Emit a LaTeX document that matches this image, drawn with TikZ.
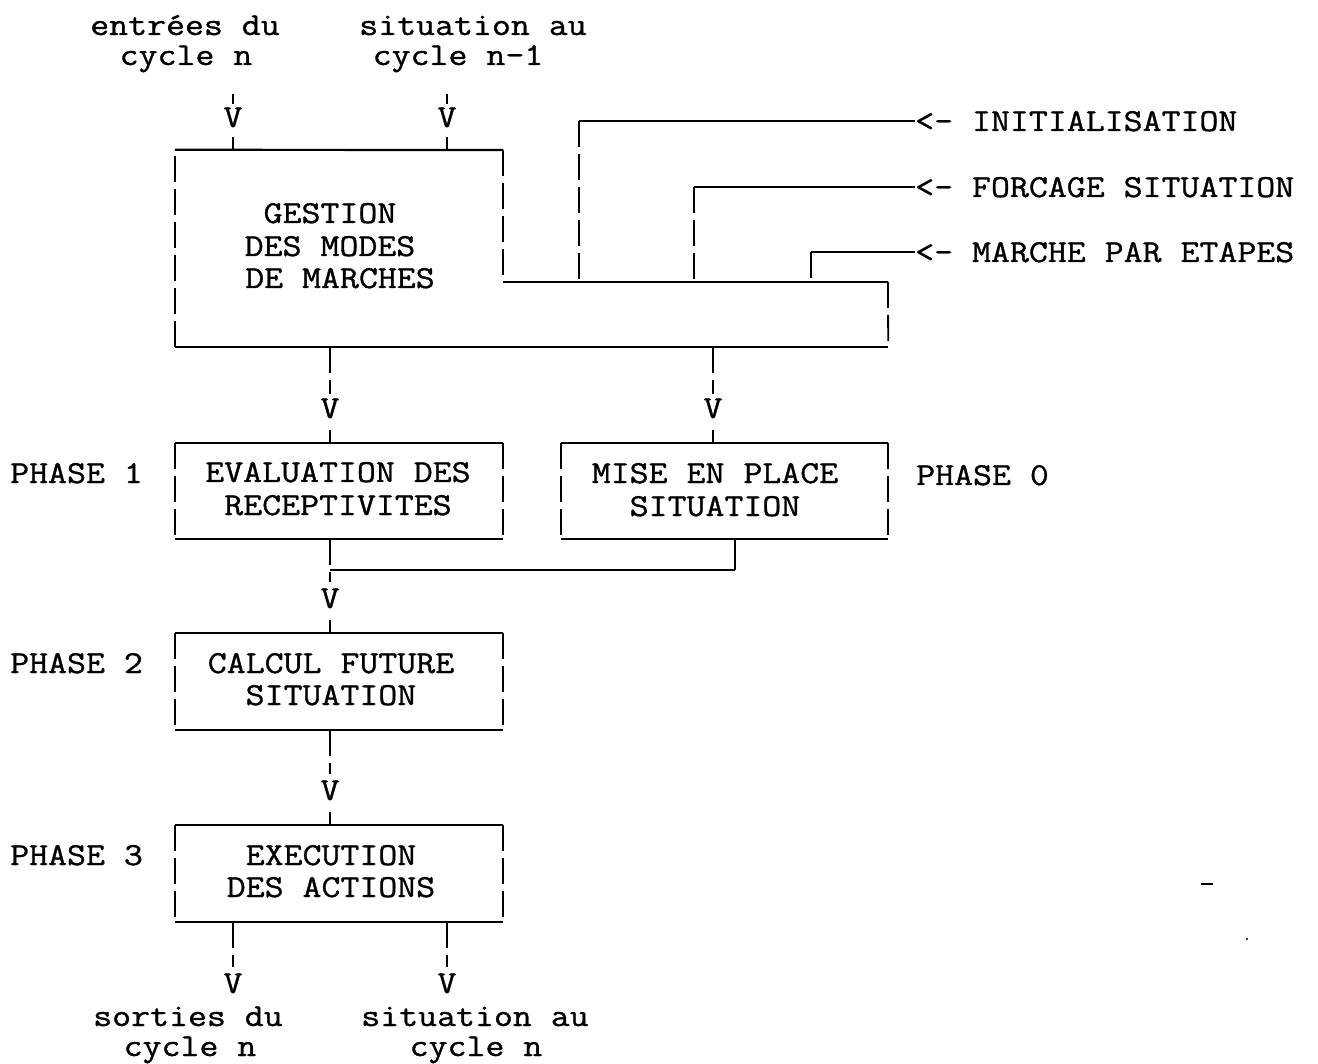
\documentclass[tikz,border=0pt]{standalone}
\usepackage{fontspec}
\setmainfont[FakeStretch=1.15,FakeBold=1]{Latin Modern Mono}
\begin{document}
\begin{tikzpicture}[x=1pt,y=-1pt,
  hl/.style={line width=2.2pt},
  vl/.style={line width=1.8pt, dash pattern=on 26pt off 7pt},
  bar/.style={line width=1.8pt},
  txt/.style={inner sep=0pt, anchor=base, font=\fontsize{32}{32}\selectfont},
  txtw/.style={txt, anchor=base west},
  arrv/.style={inner sep=0pt, anchor=base, font=\fontsize{32}{32}\selectfont},
  boxn/.style={draw=none, inner sep=0pt, rectangle}]
\fill[white] (0,0) rectangle (1318,1064);
\useasboundingbox (0,0) rectangle (1318,1064);

% ---------- top inputs ----------
\node[txt] (ia1) at (185,35) {entrées du};
\node[txt] (ia2) at (186,65) {cycle n};
\node[txt] (ib1) at (473,35) {situation au};
\node[txt] (ib2) at (458,65) {cycle n-1};
\node[arrv] (va) at (233,127) {V};
\node[arrv] (vb) at (447,127) {V};

% ---------- box GESTION (irregular outline) ----------
\node[boxn, minimum width=713pt, minimum height=197pt] (g) at (531.5,248.5) {};
\coordinate (gn) at (503,150);
\coordinate (gk) at (503,282);
\coordinate (gm) at (888,282);
\draw[hl] (g.north west) -- (gn);
\draw[vl] (gn) -- (gk);
\draw[hl] (gk) -- (gm);
\draw[vl] (gm) -- (g.south east);
\draw[hl] (g.south east) -- (g.south west);
\draw[vl] (g.south west) -- (g.north west);
\node[txt] (g1) at (330,223) {GESTION};
\node[txt] (g2) at (330,256) {DES MODES};
\node[txt] (g3) at (340,288) {DE MARCHES};

% input connectors
\draw[bar, shorten <=22pt, shorten >=3pt] (ia2.south -| va) -- (va.north);
\draw[bar, shorten <=10pt] (va.south) -- (va |- g.north);
\draw[bar, shorten <=22pt, shorten >=3pt] (ib2.south -| vb) -- (vb.north);
\draw[bar, shorten <=10pt] (vb.south) -- (vb |- g.north);

% ---------- control inputs ----------
\node[txtw] (ci) at (915,131) {<- INITIALISATION};
\node[txtw] (cf) at (915,197) {<- FORCAGE SITUATION};
\node[txtw] (cm) at (915,262) {<- MARCHE PAR ETAPES};
\coordinate (k1) at (579,282);
\coordinate (k2) at (694,282);
\coordinate (k3) at (811,282);
\draw[hl] (ci.west) -- (ci.west -| k1);
\draw[vl] (ci.west -| k1) -- (k1);
\draw[hl] (cf.west) -- (cf.west -| k2);
\draw[vl] (cf.west -| k2) -- (k2);
\draw[hl] (cm.west) -- (cm.west -| k3);
\draw[vl] (cm.west -| k3) -- (k3);

% ---------- phase 1 / phase 0 ----------
\node[arrv] (vc) at (330,418) {V};
\node[arrv] (vd) at (713,418) {V};
\node[boxn, minimum width=328pt, minimum height=96pt] (ev) at (339,491) {};
\node[boxn, minimum width=327pt, minimum height=96pt] (mi) at (724.5,491) {};
\foreach \b in {ev,mi}{
  \draw[hl] (\b.north west) -- (\b.north east) (\b.south west) -- (\b.south east);
  \draw[vl] (\b.north west) -- (\b.south west) (\b.north east) -- (\b.south east);
}
\node[txt] (ev1) at (338,482) {EVALUATION DES};
\node[txt] (ev2) at (338,515) {RECEPTIVITES};
\node[txt] (mi1) at (715,483) {MISE EN PLACE};
\node[txt] (mi2) at (715,516) {SITUATION};
\node[txtw] (p1) at (10,483) {PHASE 1};
\node[txtw] (p0) at (916,485) {PHASE 0};

\draw[vl, shorten >=4pt] (vc |- g.south) -- (vc.north);
\draw[bar, shorten <=12pt] (vc.south) -- (vc |- ev.north);
\draw[vl, shorten >=4pt] (vd |- g.south) -- (vd.north);
\draw[bar, shorten <=12pt] (vd.south) -- (vd |- mi.north);

% ---------- merge ----------
\node[arrv] (ve) at (330,608) {V};
\coordinate (mj) at (330,570);
\coordinate (mk) at (735,570);
\draw[vl, shorten >=6pt] (ve |- ev.south) -- (ve.north);
\draw[bar] (mk |- mi.south) -- (mk);
\draw[hl] (mk) -- (mj);

% ---------- phase 2 ----------
\node[boxn, minimum width=328pt, minimum height=97pt] (ca) at (339,681.5) {};
\draw[hl] (ca.north west) -- (ca.north east) (ca.south west) -- (ca.south east);
\draw[vl] (ca.north west) -- (ca.south west) (ca.north east) -- (ca.south east);
\node[txt] (ca1) at (331,673) {CALCUL FUTURE};
\node[txt] (ca2) at (331,705) {SITUATION};
\node[txtw] (p2) at (10,673) {PHASE 2};
\draw[bar, shorten <=12pt] (ve.south) -- (ve |- ca.north);

% ---------- phase 3 ----------
\node[arrv] (vf) at (330,800) {V};
\node[boxn, minimum width=328pt, minimum height=97pt] (ex) at (339,873.5) {};
\draw[hl] (ex.north west) -- (ex.north east) (ex.south west) -- (ex.south east);
\draw[vl] (ex.north west) -- (ex.south west) (ex.north east) -- (ex.south east);
\node[txt] (ex1) at (331,865) {EXECUTION};
\node[txt] (ex2) at (331,897) {DES ACTIONS};
\node[txtw] (p3) at (10,865) {PHASE 3};
\draw[vl, shorten >=6pt] (vf |- ca.south) -- (vf.north);
\draw[bar, shorten <=12pt] (vf.south) -- (vf |- ex.north);

% ---------- outputs ----------
\node[arrv] (vg) at (233,993) {V};
\node[arrv] (vh) at (447,993) {V};
\draw[vl, shorten >=6pt] (vg |- ex.south) -- (vg.north);
\draw[vl, shorten >=6pt] (vh |- ex.south) -- (vh.north);
\node[txt] (oa1) at (188,1026) {sorties du};
\node[txt] (oa2) at (190,1056) {cycle n};
\node[txt] (ob1) at (475,1026) {situation au};
\node[txt] (ob2) at (476,1056) {cycle n};

% stray marks of the scan
\draw[line width=2.5pt] (1201,884) -- (1213,884);
\fill (1247,939) circle (1.2pt);
\end{tikzpicture}
\end{document}
